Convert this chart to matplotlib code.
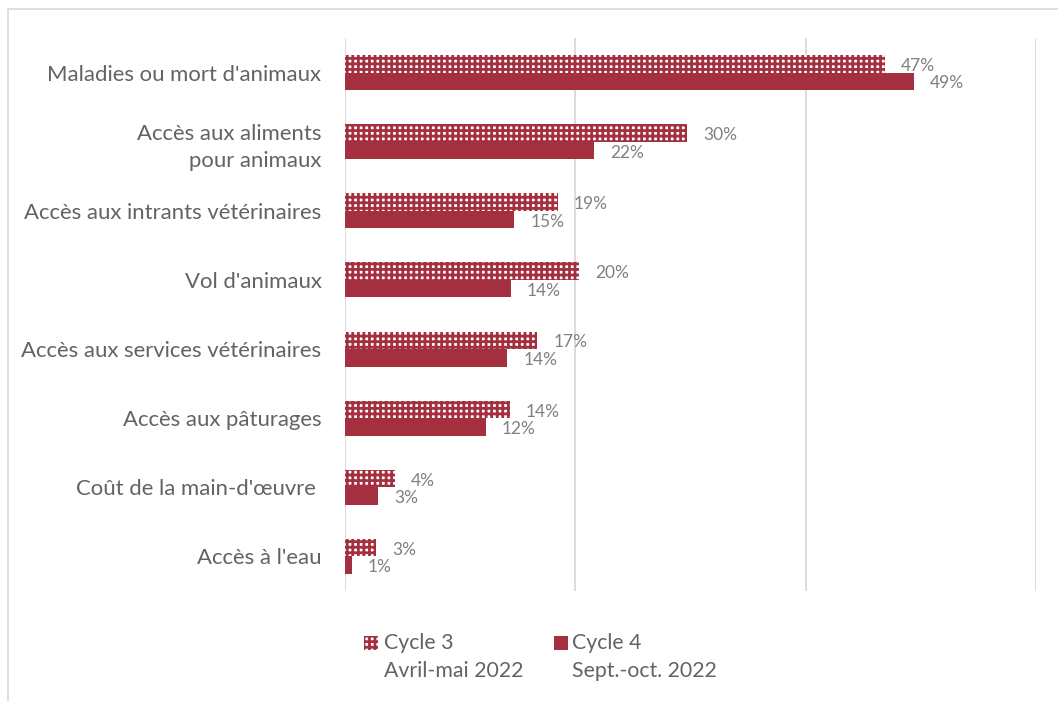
import matplotlib.pyplot as plt
from matplotlib.patches import Rectangle
import numpy as np

plt.rcParams['font.family'] = ['Lato', 'DejaVu Sans']
plt.rcParams['hatch.linewidth'] = 2.0

categories = ["Maladies ou mort d'animaux",
              "Accès aux aliments\npour animaux",
              "Accès aux intrants vétérinaires",
              "Vol d'animaux",
              "Accès aux services vétérinaires",
              "Accès aux pâturages",
              "Coût de la main-d'œuvre ",
              "Accès à l'eau"]
cycle3 = [46.9, 29.7, 18.5, 20.3, 16.7, 14.3, 4.3, 2.7]
cycle4 = [49.4, 21.6, 14.7, 14.4, 14.1, 12.2, 2.9, 0.6]
labels3 = ["47%", "30%", "19%", "20%", "17%", "14%", "4%", "3%"]
labels4 = ["49%", "22%", "15%", "14%", "14%", "12%", "3%", "1%"]

red = '#A4303F'
grey_txt = '#636363'
grey_lbl = '#808080'

fig = plt.figure(figsize=(10.58, 7.01), dpi=100)
ax = fig.add_axes([345/1058, 1-591/701, 691/1058, 553/701])

y = np.arange(len(categories))
h = 0.253
ax.barh(y - h/2, cycle3, height=h, color='white', edgecolor=red, hatch='+++', linewidth=0)
ax.barh(y + h/2, cycle4, height=h, color=red, linewidth=0)

for i in range(len(categories)):
    ax.annotate(labels3[i], (cycle3[i], y[i] - h/2), xytext=(11.5, -1.5), textcoords='offset points',
                va='center', ha='left', fontsize=12.5, color=grey_lbl)
    ax.annotate(labels4[i], (cycle4[i], y[i] + h/2), xytext=(11.5, -1.5), textcoords='offset points',
                va='center', ha='left', fontsize=12.5, color=grey_lbl)

ax.set_xlim(0, 60)
ax.set_ylim(len(categories) - 0.5, -0.5)
ax.set_xticks([0, 20, 40, 60])
ax.set_xticklabels([])
ax.set_yticks(y)
ax.set_yticklabels(categories, fontsize=15.9, color=grey_txt, linespacing=1.45)
ax.tick_params(axis='both', length=0, pad=17)
ax.grid(axis='x', color='#D9D9D9', linewidth=1.3)
ax.set_axisbelow(True)
for s in ax.spines.values():
    s.set_visible(False)

# legend, drawn by hand so the swatch sits on the first line
fig.patches.append(Rectangle((364/1058, 1-650/701), 14/1058, 14/701, transform=fig.transFigure,
                             facecolor='white', edgecolor=red, hatch='+++', linewidth=0))
fig.patches.append(Rectangle((554/1058, 1-650/701), 14/1058, 14/701, transform=fig.transFigure,
                             facecolor=red, linewidth=0))
fig.text(384/1058, 1-643/701, "Cycle 3", fontsize=15.3, color=grey_txt, va='center')
fig.text(384/1058, 1-671/701, "Avril-mai 2022", fontsize=15.3, color=grey_txt, va='center')
fig.text(572/1058, 1-643/701, "Cycle 4", fontsize=15.3, color=grey_txt, va='center')
fig.text(572/1058, 1-671/701, "Sept.-oct. 2022", fontsize=15.3, color=grey_txt, va='center')

# outer frame
fig.patches.append(Rectangle((8/1058, -0.05), 1.1, 1.05 - 9/701, transform=fig.transFigure,
                             fill=False, edgecolor='#D9D9D9', linewidth=1.2))

fig.savefig('out.png', dpi=100)
